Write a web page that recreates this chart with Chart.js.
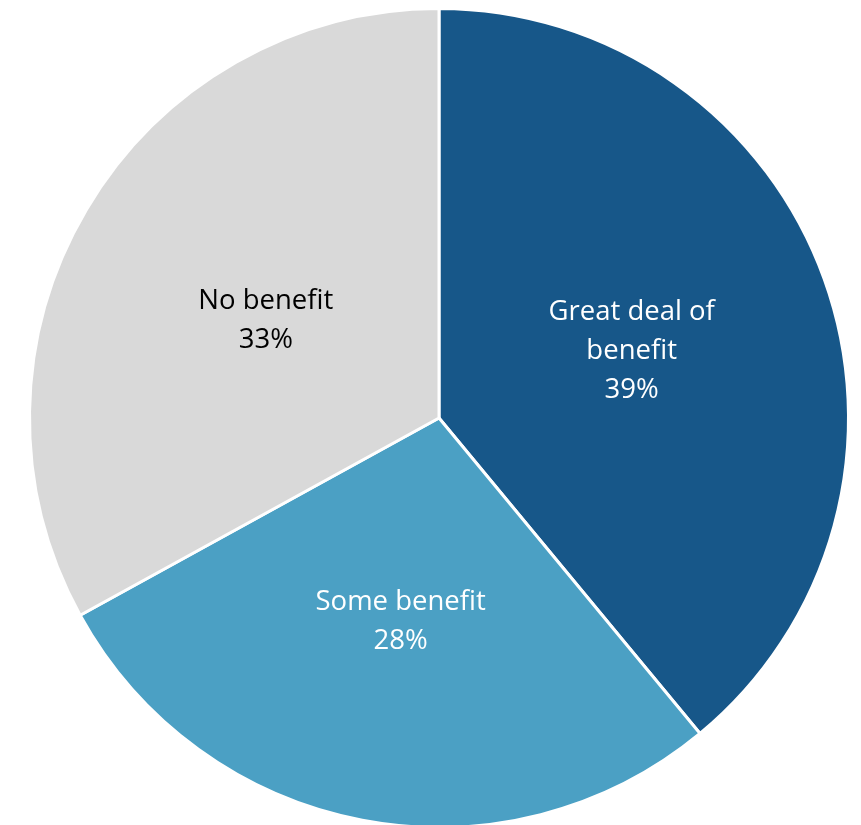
<!DOCTYPE html>
<html>
<head>
<meta charset="utf-8">
<script src="https://cdn.jsdelivr.net/npm/chart.js@4"></script>
<style>
html,body{margin:0;padding:0;background:#fff;overflow:hidden;}
#wrap{position:absolute;left:0;top:0;width:861px;height:840px;}
</style>
</head>
<body>
<div id="wrap"><canvas id="c" width="861" height="840"></canvas></div>
<script>
const categories = [["Great deal of", "benefit"], ["Some benefit"], ["No benefit"]];
const values = [39, 28, 33];
const colors = ["#175789", "#4BA0C4", "#D9D9D9"];
const labelColors = ["#FFFFFF", "#FFFFFF", "#000000"];

const labelRadius = [0.5, 0.5, 0.48];
const labelShiftX = [0, 0, -4];

const labelPlugin = {
  id: 'sliceLabels',
  afterDatasetsDraw(chart) {
    const ctx = chart.ctx;
    const meta = chart.getDatasetMeta(0);
    ctx.save();
    ctx.font = '27.5px "Open Sans", Lato, sans-serif';
    ctx.textAlign = 'center';
    ctx.textBaseline = 'middle';
    meta.data.forEach((arc, i) => {
      const p = arc.getProps(['x','y','startAngle','endAngle','outerRadius'], true);
      const mid = (p.startAngle + p.endAngle) / 2;
      const r = p.outerRadius * labelRadius[i];
      const cx = p.x + Math.cos(mid) * r + labelShiftX[i];
      const cy = p.y + Math.sin(mid) * r + 3;
      const lines = categories[i].concat([values[i] + '%']);
      const lh = 39;
      const y0 = cy - (lines.length - 1) * lh / 2;
      ctx.fillStyle = labelColors[i];
      lines.forEach((t, k) => ctx.fillText(t, cx, y0 + k * lh));
    });
    ctx.restore();
  }
};

new Chart(document.getElementById('c'), {
  type: 'pie',
  data: {
    labels: categories.map(c => c.join(' ')),
    datasets: [{
      data: values,
      backgroundColor: colors,
      borderColor: '#FFFFFF',
      borderWidth: 3
    }]
  },
  options: {
    responsive: false,
    animation: false,
    layout: { padding: { top: 7, bottom: 11, left: 28, right: 11 } },
    plugins: { legend: { display: false }, tooltip: { enabled: false } }
  },
  plugins: [labelPlugin]
});
</script>
</body>
</html>
